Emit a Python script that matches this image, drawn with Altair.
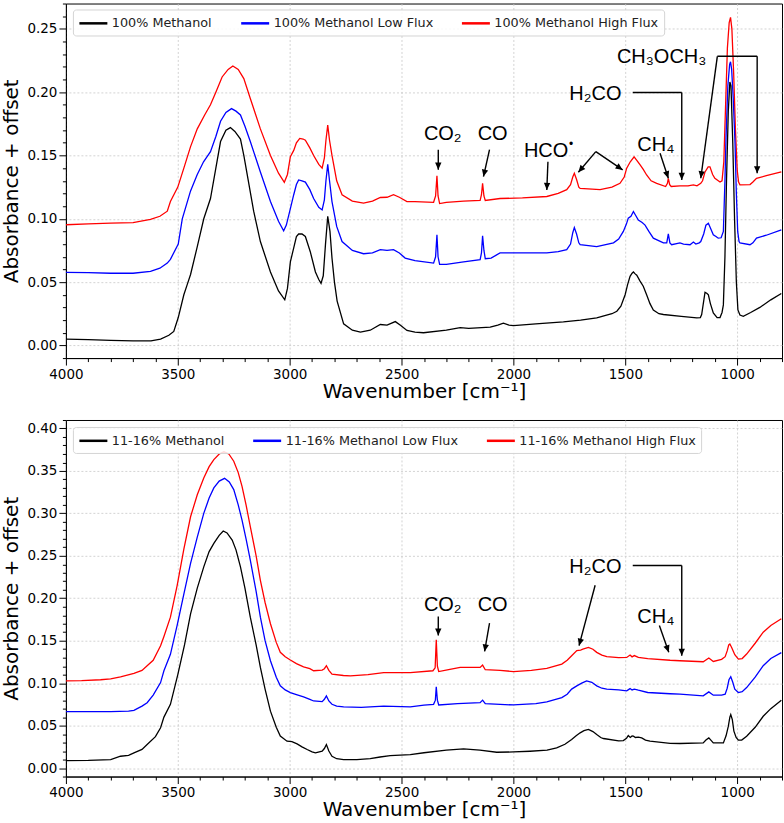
import math
import altair as alt
import pandas as pd

# ---------------- spectra: 100% methanol (upper panel) ----------------
top_black_wn = [4000, 3900, 3800, 3700, 3620, 3577, 3540, 3518, 3498, 3473, 3458, 3443, 3413, 3384, 3354, 3330,
                3309, 3285, 3265, 3245, 3220, 3205, 3190, 3161, 3131, 3086, 3050, 3022, 3010, 2997, 2982, 2970,
                2960, 2945, 2930, 2908, 2885, 2870, 2860, 2850, 2840, 2830, 2820, 2811, 2800, 2788, 2759, 2720,
                2684, 2640, 2595, 2565, 2528, 2505, 2476, 2440, 2402, 2300, 2238, 2200, 2104, 2070, 2045, 2020,
                2000, 1900, 1777, 1700, 1628, 1560, 1538, 1520, 1501, 1490, 1479, 1470, 1464, 1456, 1449, 1435,
                1420, 1405, 1390, 1375, 1350, 1330, 1250, 1181, 1165, 1159, 1150, 1144, 1135, 1129, 1120, 1107,
                1090, 1077, 1068, 1062, 1055, 1048, 1040, 1033, 1028, 1020, 1012, 1004, 997, 988, 973, 940,
                899, 850, 803]
top_black_abs = [0.005, 0.0045, 0.004, 0.0035, 0.0035, 0.005, 0.008, 0.011, 0.022, 0.040, 0.048, 0.056, 0.078, 0.100,
                 0.116, 0.140, 0.161, 0.170, 0.172, 0.169, 0.163, 0.150, 0.135, 0.106, 0.082, 0.058, 0.043, 0.036,
                 0.045, 0.066, 0.077, 0.086, 0.088, 0.088, 0.086, 0.074, 0.058, 0.052, 0.049, 0.055, 0.080, 0.102,
                 0.090, 0.069, 0.050, 0.035, 0.017, 0.012, 0.0105, 0.012, 0.0165, 0.016, 0.0188, 0.016, 0.0118,
                 0.0105, 0.010, 0.012, 0.014, 0.0135, 0.0144, 0.016, 0.0176, 0.016, 0.0157, 0.017, 0.0186, 0.020,
                 0.0217, 0.025, 0.027, 0.031, 0.040, 0.048, 0.0546, 0.057, 0.058, 0.0565, 0.0554, 0.051, 0.0467,
                 0.040, 0.033, 0.028, 0.025, 0.0244, 0.023, 0.0217, 0.022, 0.0244, 0.035, 0.042, 0.041, 0.040,
                 0.033, 0.0257, 0.022, 0.022, 0.026, 0.032, 0.070, 0.130, 0.185, 0.208, 0.205, 0.160, 0.100, 0.050,
                 0.028, 0.024, 0.023, 0.026, 0.030, 0.036, 0.041]

top_blue_wn = [4000, 3900, 3800, 3700, 3622, 3580, 3547, 3533, 3498, 3480, 3443, 3413, 3385, 3354, 3330, 3309,
               3285, 3260, 3240, 3220, 3200, 3176, 3131, 3086, 3050, 3027, 3015, 2997, 2982, 2970, 2960, 2945,
               2930, 2910, 2893, 2870, 2855, 2845, 2838, 2830, 2822, 2811, 2790, 2766, 2720, 2670, 2630, 2595,
               2565, 2536, 2510, 2484, 2440, 2357, 2348, 2342, 2337, 2330, 2300, 2223, 2149, 2143, 2138, 2132,
               2126, 2100, 2060, 1960, 1851, 1800, 1762, 1745, 1735, 1728, 1718, 1708, 1702, 1628, 1553, 1530,
               1509, 1495, 1487, 1475, 1464, 1455, 1442, 1425, 1412, 1395, 1375, 1330, 1315, 1308, 1301, 1293,
               1256, 1240, 1211, 1196, 1185, 1170, 1163, 1150, 1140, 1129, 1118, 1107, 1095, 1085, 1072, 1062,
               1055, 1050, 1042, 1034, 1030, 1025, 1018, 1010, 1004, 998, 992, 988, 943, 930, 914, 870, 803]
top_blue_abs = [0.0577, 0.0575, 0.057, 0.057, 0.0585, 0.061, 0.065, 0.068, 0.080, 0.100, 0.122, 0.135, 0.145,
                0.153, 0.165, 0.177, 0.184, 0.187, 0.185, 0.182, 0.173, 0.161, 0.137, 0.1136, 0.098, 0.0905,
                0.095, 0.108, 0.119, 0.127, 0.1307, 0.130, 0.129, 0.123, 0.116, 0.109, 0.107, 0.115, 0.130,
                0.143, 0.130, 0.1136, 0.094, 0.082, 0.075, 0.0724, 0.073, 0.0756, 0.0750, 0.0756, 0.073, 0.069,
                0.067, 0.065, 0.070, 0.0874, 0.070, 0.064, 0.064, 0.066, 0.0677, 0.073, 0.0866, 0.075, 0.0685,
                0.069, 0.073, 0.073, 0.073, 0.074, 0.0756, 0.080, 0.089, 0.093, 0.088, 0.081, 0.0795, 0.078,
                0.081, 0.084, 0.090, 0.096, 0.1005, 0.102, 0.1057, 0.103, 0.099, 0.097, 0.095, 0.090, 0.0847,
                0.081, 0.081, 0.088, 0.081, 0.0795, 0.081, 0.080, 0.0795, 0.0816, 0.080, 0.081, 0.082, 0.088,
                0.095, 0.0965, 0.092, 0.0874, 0.086, 0.0847, 0.085, 0.090, 0.130, 0.165, 0.205, 0.222, 0.224,
                0.218, 0.195, 0.160, 0.120, 0.090, 0.082, 0.081, 0.0795, 0.081, 0.0847, 0.087, 0.0913]

top_red_wn = [4000, 3900, 3800, 3700, 3622, 3580, 3547, 3533, 3500, 3473, 3443, 3413, 3380, 3354, 3330, 3302,
              3275, 3254, 3230, 3205, 3176, 3131, 3086, 3050, 3024, 3010, 2997, 2982, 2970, 2955, 2940, 2930,
              2910, 2893, 2870, 2855, 2845, 2838, 2830, 2822, 2811, 2790, 2766, 2720, 2670, 2630, 2595, 2565,
              2536, 2510, 2476, 2440, 2357, 2348, 2342, 2337, 2330, 2300, 2223, 2149, 2143, 2138, 2132, 2126,
              2060, 1960, 1851, 1800, 1762, 1745, 1735, 1728, 1718, 1708, 1702, 1613, 1560, 1524, 1505, 1494,
              1478, 1461, 1448, 1434, 1420, 1405, 1385, 1360, 1320, 1312, 1308, 1302, 1295, 1256, 1220, 1196,
              1180, 1163, 1155, 1144, 1130, 1122, 1110, 1100, 1077, 1068, 1060, 1052, 1044, 1036, 1030, 1024,
              1016, 1008, 1000, 994, 988, 943, 930, 914, 870, 803]
top_red_abs = [0.0953, 0.096, 0.0965, 0.097, 0.0995, 0.102, 0.106, 0.1136, 0.125, 0.140, 0.157, 0.171, 0.182,
               0.190, 0.200, 0.212, 0.218, 0.2207, 0.218, 0.2107, 0.195, 0.171, 0.150, 0.136, 0.1288, 0.135,
               0.149, 0.154, 0.160, 0.1635, 0.163, 0.162, 0.156, 0.150, 0.143, 0.140, 0.148, 0.162, 0.174,
               0.162, 0.150, 0.130, 0.119, 0.114, 0.1123, 0.114, 0.1168, 0.117, 0.119, 0.117, 0.1136, 0.1136,
               0.113, 0.118, 0.134, 0.118, 0.112, 0.113, 0.114, 0.1145, 0.119, 0.128, 0.118, 0.1145, 0.116,
               0.1165, 0.1176, 0.120, 0.123, 0.127, 0.133, 0.136, 0.131, 0.125, 0.124, 0.123, 0.125, 0.128,
               0.133, 0.140, 0.145, 0.149, 0.146, 0.1425, 0.139, 0.1346, 0.130, 0.128, 0.1255, 0.128, 0.132,
               0.127, 0.1255, 0.126, 0.126, 0.1268, 0.126, 0.128, 0.130, 0.137, 0.141, 0.141, 0.135, 0.132,
               0.129, 0.130, 0.145, 0.190, 0.235, 0.255, 0.259, 0.250, 0.215, 0.170, 0.138, 0.129, 0.1268,
               0.127, 0.129, 0.132, 0.134, 0.137]

# ---------------- spectra: 11-16% methanol (lower panel) ----------------
bot_black_wn = [4000, 3900, 3800, 3756, 3720, 3696, 3660, 3637, 3600, 3577, 3562, 3533, 3500, 3470, 3443, 3413,
                3384, 3360, 3339, 3315, 3297, 3280, 3257, 3240, 3220, 3200, 3176, 3150, 3131, 3110, 3086, 3060,
                3042, 3012, 2990, 2967, 2945, 2922, 2900, 2885, 2855, 2845, 2836, 2825, 2811, 2790, 2759, 2700,
                2640, 2596, 2551, 2461, 2400, 2300, 2223, 2150, 2075, 2000, 1926, 1850, 1807, 1770, 1740, 1720,
                1702, 1685, 1665, 1645, 1628, 1610, 1598, 1530, 1509, 1495, 1487, 1478, 1470, 1464, 1455, 1442,
                1427, 1410, 1390, 1300, 1256, 1152, 1140, 1127, 1115, 1107, 1062, 1050, 1040, 1033, 1029, 1022,
                1015, 1005, 995, 980, 958, 920, 884, 850, 803]
bot_black_abs = [0.0088, 0.009, 0.010, 0.0139, 0.015, 0.0178, 0.022, 0.0277, 0.037, 0.0474, 0.060, 0.075, 0.110,
                 0.145, 0.1817, 0.212, 0.237, 0.255, 0.2647, 0.274, 0.2793, 0.277, 0.2686, 0.257, 0.237, 0.212,
                 0.1777, 0.145, 0.1185, 0.093, 0.067, 0.048, 0.0376, 0.0316, 0.031, 0.0284, 0.025, 0.0218, 0.019,
                 0.0178, 0.0198, 0.023, 0.0277, 0.020, 0.0139, 0.011, 0.010, 0.010, 0.011, 0.013, 0.0147, 0.0159,
                 0.018, 0.021, 0.0225, 0.021, 0.0186, 0.019, 0.0198, 0.021, 0.0237, 0.028, 0.0336, 0.038, 0.0415,
                 0.044, 0.0455, 0.043, 0.0395, 0.036, 0.0348, 0.032, 0.0324, 0.035, 0.0383, 0.036, 0.0378, 0.0375,
                 0.036, 0.0365, 0.0355, 0.033, 0.0316, 0.029, 0.0289, 0.0296, 0.033, 0.0355, 0.032, 0.0296, 0.0296,
                 0.038, 0.049, 0.060, 0.063, 0.057, 0.0435, 0.036, 0.0328, 0.033, 0.0375, 0.048, 0.061, 0.070, 0.080]

bot_blue_wn = [4000, 3900, 3800, 3720, 3696, 3660, 3637, 3610, 3577, 3562, 3533, 3503, 3473, 3443, 3413, 3384,
               3360, 3339, 3315, 3291, 3270, 3250, 3230, 3213, 3195, 3176, 3150, 3131, 3110, 3086, 3060, 3042,
               3020, 2997, 2970, 2938, 2910, 2893, 2855, 2845, 2836, 2825, 2811, 2790, 2759, 2680, 2580, 2461,
               2400, 2357, 2349, 2345, 2340, 2334, 2250, 2149, 2138, 2126, 2060, 2000, 1900, 1851, 1784, 1760,
               1740, 1717, 1695, 1673, 1650, 1628, 1605, 1583, 1530, 1494, 1479, 1470, 1460, 1442, 1400, 1300,
               1256, 1152, 1127, 1107, 1070, 1054, 1045, 1037, 1029, 1020, 1011, 995, 978, 958, 920, 884, 850, 803]
bot_blue_abs = [0.0664, 0.0665, 0.0665, 0.067, 0.068, 0.073, 0.077, 0.086, 0.1007, 0.1146, 0.134, 0.168, 0.205,
                0.241, 0.272, 0.300, 0.318, 0.330, 0.338, 0.3413, 0.337, 0.328, 0.310, 0.292, 0.270, 0.245, 0.208,
                0.1777, 0.150, 0.1264, 0.107, 0.0968, 0.092, 0.0889, 0.0865, 0.0838, 0.081, 0.079, 0.0782, 0.081,
                0.085, 0.079, 0.0751, 0.073, 0.072, 0.0715, 0.073, 0.072, 0.074, 0.0751, 0.080, 0.0956, 0.080,
                0.0743, 0.076, 0.077, 0.080, 0.0758, 0.075, 0.0743, 0.076, 0.078, 0.083, 0.087, 0.093, 0.0968,
                0.100, 0.1027, 0.101, 0.0968, 0.094, 0.093, 0.092, 0.091, 0.0936, 0.092, 0.093, 0.0917, 0.089,
                0.0875, 0.087, 0.085, 0.0897, 0.0858, 0.086, 0.087, 0.094, 0.104, 0.1075, 0.101, 0.093, 0.0889,
                0.090, 0.0948, 0.107, 0.1205, 0.129, 0.136]

bot_red_wn = [4000, 3930, 3845, 3800, 3756, 3696, 3660, 3637, 3610, 3577, 3562, 3533, 3503, 3473, 3443, 3413,
              3384, 3360, 3339, 3315, 3294, 3272, 3250, 3230, 3213, 3195, 3176, 3150, 3131, 3110, 3086, 3060,
              3042, 3020, 2997, 2970, 2938, 2910, 2893, 2855, 2845, 2836, 2825, 2811, 2760, 2729, 2650, 2580,
              2461, 2360, 2350, 2345, 2340, 2334, 2290, 2238, 2149, 2138, 2126, 2060, 2000, 1920, 1851, 1784,
              1760, 1740, 1717, 1700, 1690, 1665, 1645, 1628, 1605, 1583, 1530, 1494, 1479, 1470, 1460, 1442,
              1400, 1300, 1256, 1152, 1127, 1107, 1070, 1054, 1045, 1038, 1033, 1025, 1011, 995, 978, 958, 920,
              884, 850, 803]
bot_red_abs = [0.1027, 0.103, 0.104, 0.105, 0.1075, 0.1114, 0.115, 0.1205, 0.127, 0.144, 0.155, 0.1777, 0.215,
               0.258, 0.296, 0.322, 0.3417, 0.355, 0.3634, 0.370, 0.3725, 0.370, 0.3614, 0.348, 0.3318, 0.310,
               0.2844, 0.250, 0.2212, 0.195, 0.170, 0.148, 0.1363, 0.131, 0.1272, 0.123, 0.1193, 0.117, 0.1146,
               0.1154, 0.117, 0.1205, 0.115, 0.1106, 0.109, 0.1086, 0.110, 0.1125, 0.1125, 0.1146, 0.118, 0.151,
               0.120, 0.1137, 0.116, 0.1185, 0.1185, 0.1213, 0.1158, 0.115, 0.1137, 0.115, 0.1173, 0.1225, 0.127,
               0.1323, 0.1383, 0.139, 0.140, 0.1422, 0.140, 0.1363, 0.133, 0.1312, 0.130, 0.1303, 0.1332, 0.131,
               0.1325, 0.1303, 0.129, 0.127, 0.1264, 0.1252, 0.1296, 0.1256, 0.128, 0.1312, 0.138, 0.145, 0.1462,
               0.142, 0.1335, 0.1284, 0.129, 0.1343, 0.147, 0.160, 0.168, 0.1758]

top_labels = ["100% Methanol", "100% Methanol Low Flux", "100% Methanol High Flux"]
bot_labels = ["11-16% Methanol", "11-16% Methanol Low Flux", "11-16% Methanol High Flux"]
line_colors = ["#000000", "#0000ff", "#ff0000"]

# ---------------- annotations (wavenumber, absorbance) ----------------
top_note_text = ["CO₂", "CO", "HCO", "H₂CO", "CH₄", "CH₃OCH₃"]
top_note_wn = [2316, 2093, 1854, 1634, 1364, 1338]
top_note_abs = [0.167, 0.167, 0.1538, 0.1989, 0.1583, 0.2278]
# radical dot beside "HCO"
top_dot_wn = [1854]
top_dot_abs = [0.1538]

# arrow segments: start wn, start abs, end wn, end abs, arrowhead at end
top_arrow_wn1 = [2336, 2107, 1846, 1632, 1632, 1467, 1248, 1345, 1089, 911, 1089]
top_arrow_a1 = [0.1546, 0.1546, 0.1451, 0.1530, 0.1530, 0.1997, 0.1997, 0.1517, 0.2283, 0.2283, 0.2283]
top_arrow_wn2 = [2336, 2134, 1851, 1710, 1512, 1248, 1248, 1308, 911, 911, 1163]
top_arrow_a2 = [0.1388, 0.1333, 0.1228, 0.1367, 0.1386, 0.1997, 0.1307, 0.1320, 0.2283, 0.1359, 0.1320]
top_arrow_head = [True, True, True, True, True, False, True, True, False, True, True]

bot_note_text = ["CO₂", "CO", "H₂CO", "CH₄"]
bot_note_wn = [2316, 2093, 1634, 1364]
bot_note_abs = [0.1916, 0.1916, 0.237, 0.1777]

bot_arrow_wn1 = [2336, 2107, 1635, 1467, 1248, 1348]
bot_arrow_a1 = [0.1786, 0.1706, 0.2153, 0.2386, 0.2386, 0.1679]
bot_arrow_wn2 = [2336, 2129, 1707, 1248, 1248, 1306]
bot_arrow_a2 = [0.1560, 0.1374, 0.1442, 0.2386, 0.1323, 0.1363]
bot_arrow_head = [True, True, True, False, True, True]

X_MIN, X_MAX = 800, 4000
WIDTH = 717
ARROW_SHAPE = "M0,0 L-0.45,-1 L0.45,-1 Z"
# flat legend line, wider than its nominal symbol box so rows stay short
LEGEND_LINE = "M-2,0 L2,0"


def frange(lo, hi, step):
    n = int(round((hi - lo) / step))
    return [round(lo + i * step, 4) for i in range(n + 1)]


def panel(spectra, labels, y_lo, y_hi, height, legend_y,
          note_text, note_wn, note_abs,
          a_wn1, a_a1, a_wn2, a_a2, a_head, dot=None):
    major_y = "abs(datum.value*20 - round(datum.value*20)) < 0.001"
    major_x = "datum.value % 500 === 0"

    x_enc = alt.X(
        "wn:Q",
        scale=alt.Scale(domain=[X_MIN, X_MAX], reverse=True, nice=False, zero=False),
        axis=alt.Axis(
            title="Wavenumber [cm⁻¹]",
            values=list(range(X_MIN, X_MAX + 1, 100)),
            labelExpr=f"{major_x} ? format(datum.value, 'd') : ''",
            labelFontSize={"condition": {"test": major_x, "value": 13.5}, "value": 0},
            tickSize={"condition": {"test": major_x, "value": 7}, "value": 3.5},
            gridOpacity={"condition": {"test": major_x, "value": 1}, "value": 0},
            labelFlush=False, labelOverlap=False, labelPadding=2, titlePadding=1,
        ),
    )
    y_enc = alt.Y(
        "absorb:Q",
        scale=alt.Scale(domain=[y_lo, y_hi], nice=False, zero=False),
        axis=alt.Axis(
            title="Absorbance + offset",
            values=frange(y_lo, y_hi, 0.01),
            labelExpr=f"{major_y} ? format(datum.value, '.2f') : ''",
            labelFontSize={"condition": {"test": major_y, "value": 13.5}, "value": 0},
            tickSize={"condition": {"test": major_y, "value": 7}, "value": 3.5},
            gridOpacity={"condition": {"test": major_y, "value": 1}, "value": 0},
            labelFlush=False, labelOverlap=False, labelPadding=2, titlePadding=5,
        ),
    )
    color_enc = alt.Color(
        "series:N",
        scale=alt.Scale(domain=labels, range=line_colors),
        legend=alt.Legend(
            title=None, orient="none", legendX=7, legendY=legend_y,
            direction="horizontal", columns=3,
            symbolType=LEGEND_LINE, symbolSize=196, symbolStrokeWidth=2.5, symbolOffset=7,
            labelFont="DejaVu Sans", labelFontSize=12.8, labelColor="#222222", labelLimit=400,
            labelOffset=10, columnPadding=23, padding=5,
            fillColor="rgba(255,255,255,0.85)", strokeColor="#d4d4d4", cornerRadius=3,
        ),
    )

    # draw high flux first, pure methanol last (on top)
    layers = []
    for idx in [2, 1, 0]:
        wn, ab = spectra[idx]
        df = pd.DataFrame({"wn": wn, "absorb": ab, "series": labels[idx]})
        layers.append(
            alt.Chart(df).mark_line(strokeWidth=1.3, clip=True).encode(x=x_enc, y=y_enc, color=color_enc)
        )

    # arrows
    px_per_wn = WIDTH / (X_MAX - X_MIN)
    px_per_abs = height / (y_hi - y_lo)
    seg = pd.DataFrame({"wn": a_wn1, "absorb": a_a1, "wn2": a_wn2, "absorb2": a_a2, "head": a_head})
    seg["ang"] = [
        math.degrees(math.atan2((w2 - w1) * px_per_wn, (b1 - b2) * px_per_abs)) % 360
        for w1, b1, w2, b2 in zip(seg.wn, seg.absorb, seg.wn2, seg.absorb2)
    ]
    layers.append(
        alt.Chart(seg).mark_rule(color="black", strokeWidth=1.4).encode(
            x=x_enc, y=y_enc, x2="wn2:Q", y2="absorb2:Q"
        )
    )
    heads = seg[seg["head"]][["wn2", "absorb2", "ang"]].rename(columns={"wn2": "wn", "absorb2": "absorb"})
    layers.append(
        alt.Chart(heads).mark_point(shape=ARROW_SHAPE, filled=True, size=200, color="black", opacity=1).encode(
            x=x_enc, y=y_enc, angle=alt.Angle("ang:Q", scale=None)
        )
    )

    notes = pd.DataFrame({"wn": note_wn, "absorb": note_abs, "label": note_text})
    layers.append(
        alt.Chart(notes).mark_text(font="Liberation Sans", fontSize=20, color="black",
                                   align="center", baseline="middle").encode(
            x=x_enc, y=y_enc, text="label:N"
        )
    )
    if dot is not None:
        dots = pd.DataFrame({"wn": dot[0], "absorb": dot[1]})
        layers.append(
            alt.Chart(dots).mark_text(text="•", font="Liberation Sans", fontSize=12, color="black",
                                      dx=25, dy=-7).encode(x=x_enc, y=y_enc)
        )

    return alt.layer(*layers).properties(width=WIDTH, height=height)


top = panel(
    [(top_black_wn, top_black_abs), (top_blue_wn, top_blue_abs), (top_red_wn, top_red_abs)],
    top_labels, -0.01, 0.27, 355, 6,
    top_note_text, top_note_wn, top_note_abs,
    top_arrow_wn1, top_arrow_a1, top_arrow_wn2, top_arrow_a2, top_arrow_head,
    dot=(top_dot_wn, top_dot_abs),
)
bottom = panel(
    [(bot_black_wn, bot_black_abs), (bot_blue_wn, bot_blue_abs), (bot_red_wn, bot_red_abs)],
    bot_labels, -0.01, 0.41, 357, 7,
    bot_note_text, bot_note_wn, bot_note_abs,
    bot_arrow_wn1, bot_arrow_a1, bot_arrow_wn2, bot_arrow_a2, bot_arrow_head,
)

chart = (
    alt.vconcat(top, bottom, spacing=17)
    .resolve_scale(color="independent", x="independent", y="independent")
    .properties(padding={"left": 1, "top": 2, "right": 1, "bottom": 2}, background="white")
    .configure_view(stroke="#000000", strokeWidth=1)
    .configure_axis(
        domainColor="#000000", tickColor="#000000", labelColor="#000000",
        labelFont="DejaVu Sans", labelFontSize=13.5,
        titleFont="DejaVu Sans", titleFontSize=20, titleFontWeight="normal", titleColor="#000000",
        gridColor="#c8c8c8", gridDash=[2, 2], gridWidth=0.8,
    )
)

chart.save("out.html", embed_options={"renderer": "svg", "actions": False})
